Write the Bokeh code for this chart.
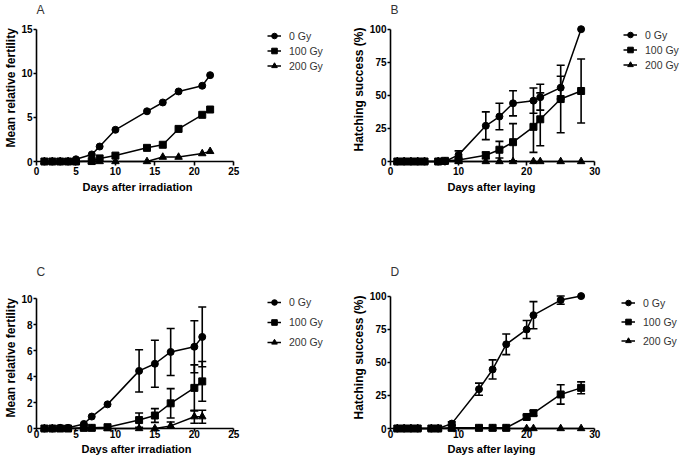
from bokeh.plotting import figure
from bokeh.layouts import column, row
from bokeh.models import (ColumnDataSource, Whisker, TeeHead, Legend, LegendItem,
                          FixedTicker, Range1d, Title)
from bokeh.embed import file_html
from bokeh.resources import INLINE

# ---------------- data ----------------
series_labels = ["0 Gy", "100 Gy", "200 Gy"]

# Panel A
days_a = [1, 2, 3, 4, 5, 7, 8, 10, 14, 16, 18, 21, 22]
a_0gy = [0, 0, 0, 0, 0.25, 0.8, 1.7, 3.6, 5.7, 6.7, 7.95, 8.6, 9.8]
a_100gy = [0, 0, 0, 0, 0, 0.05, 0.35, 0.67, 1.55, 1.9, 3.7, 5.3, 5.9]
a_200gy = [0, 0, 0, 0, 0, 0, 0, 0, 0, 0.5, 0.5, 0.9, 1.15]

# Panel B
days_b = [1, 2, 3, 4, 5, 7, 8, 10, 14, 16, 18, 21, 22, 25, 28]
b_0gy = [0, 0, 0, 0, 0, 0, 0, 5, 27, 34, 44, 46, 48.6, 55.8, 100]
b_0gy_err = [0, 0, 0, 0, 0, 0, 0, 3, 10.5, 10, 9.5, 9.5, 9.8, 8.6, 0]
b_100gy = [0, 0, 0, 0, 0, 0, 0.5, 1.2, 4.7, 8.9, 14.6, 26.2, 31.9, 47.2, 53.3]
b_100gy_err = [0, 0, 0, 0, 0, 0, 0, 0, 2.5, 6.3, 14, 19.3, 20, 25.5, 24.2]
b_200gy = [0, 0, 0, 0, 0, 0, 0, 0, 0, 0, 0, 0, 0, 0, 0]

# Panel C
days_c = [1, 2, 3, 4, 6, 7, 9, 13, 15, 17, 20, 21]
c_0gy = [0, 0, 0.05, 0.05, 0.35, 0.92, 1.86, 4.44, 4.99, 5.9, 6.3, 7.06]
c_0gy_err = [0, 0, 0, 0, 0, 0, 0, 1.63, 1.81, 1.81, 2.0, 2.3]
c_100gy = [0, 0, 0, 0, 0.05, 0.05, 0.1, 0.65, 1.0, 1.94, 3.13, 3.63]
c_100gy_err = [0, 0, 0, 0, 0, 0, 0, 0.55, 0.53, 1.13, 1.77, 1.53]
c_200gy = [0, 0, 0, 0, 0, 0, 0, 0, 0, 0.2, 0.91, 0.91]
c_200gy_err = [0, 0, 0, 0, 0, 0, 0, 0, 0, 0.3, 0.5, 0.5]

# Panel D
days_d = [1, 2, 3, 4, 6, 7, 9, 13, 15, 17, 20, 21, 25, 28]
d_0gy = [0, 0, 0, 0, 0, 0, 3.7, 29.7, 44.6, 63.6, 74.8, 85.6, 97, 100]
d_0gy_err = [0, 0, 0, 0, 0, 0, 1.3, 4.6, 7.2, 7.8, 6.8, 10.2, 3.1, 0]
d_100gy = [0, 0, 0, 0, 0, 0, 0.5, 0.5, 0.5, 0.5, 8.7, 11.6, 25.7, 30.7]
d_100gy_err = [0, 0, 0, 0, 0, 0, 0, 0, 0, 0, 1.5, 2, 7.3, 4.5]
d_200gy = [0, 0, 0, 0, 0, 0, 0, 0, 0, 0, 0, 0, 0, 0]

ticks_x_irr = [0, 5, 10, 15, 20, 25]
ticks_x_lay = [0, 10, 20, 30]
ticks_y_a = [0, 5, 10, 15]
ticks_y_c = [0, 2, 4, 6, 8, 10]
ticks_y_hatch = [0, 25, 50, 75, 100]

FONT = "Liberation Sans"
markers = ["circle", "square", "triangle"]
msizes = [7, 7, 7.5]


def panel(letter, days, series, errors, xticks, yticks, view_x, view_y,
          xlabel, ylabel, xlabel_off, ylabel_off, width, height, borders,
          legend_loc, legend_row_h, compact=False):
    left, right, top, bottom = borders
    p = figure(width=width, height=height, output_backend="svg", toolbar_location=None,
               x_range=Range1d(*view_x), y_range=Range1d(*view_y),
               min_border_left=left, min_border_right=right,
               min_border_top=top, min_border_bottom=bottom)
    p.outline_line_color = None
    p.background_fill_color = "white"
    p.border_fill_color = "white"
    p.xgrid.visible = False
    p.ygrid.visible = False
    p.title = Title(text=letter, text_font=FONT, text_font_size="12px",
                    text_font_style="normal", text_color="#333333", align="left",
                    standoff=0)
    for ax, ticks in ((p.xaxis[0], xticks), (p.yaxis[0], yticks)):
        ax.ticker = FixedTicker(ticks=ticks)
        ax.bounds = (ticks[0], ticks[-1])
        ax.minor_tick_line_color = None
        ax.axis_line_width = 1.6
        ax.axis_line_color = "black"
        ax.major_tick_line_width = 1.6
        ax.major_tick_line_color = "black"
        ax.major_tick_in = 0
        ax.major_tick_out = 4
        ax.major_label_standoff = 1
        ax.major_label_text_font = FONT
        ax.major_label_text_font_style = "bold"
        ax.major_label_text_font_size = "10px"
        ax.major_label_text_color = "black"
    p.yaxis[0].major_tick_out = 3
    if compact:
        p.xaxis[0].major_tick_out = 3
        p.xaxis[0].major_label_standoff = -2

    # axis titles, aligned to the bounded axes rather than the (wider) frame
    p.add_layout(Title(text=xlabel, text_font=FONT, text_font_size="11px",
                       text_font_style="bold", text_color="black", align="left",
                       offset=xlabel_off, standoff=(0 if compact else 2)), "below")
    p.add_layout(Title(text=ylabel, text_font=FONT, text_font_size="12px",
                       text_font_style="bold", text_color="black", align="left",
                       offset=ylabel_off, standoff=2), "left")

    items = []
    for i, ys in enumerate(series):
        src = ColumnDataSource(dict(x=days, y=ys))
        lr = p.line("x", "y", source=src, line_color="black", line_width=1.5, level="overlay")
        sr = p.scatter("x", "y", source=src, marker=markers[i], size=msizes[i],
                       fill_color="black", line_color="black", level="overlay")
        err = errors[i]
        if err is not None:
            xs = [d for d, e in zip(days, err) if e > 0]
            up = [v + e for v, e in zip(ys, err) if e > 0]
            lo = [v - e for v, e in zip(ys, err) if e > 0]
            esrc = ColumnDataSource(dict(x=xs, upper=up, lower=lo))
            w = Whisker(source=esrc, base="x", upper="upper", lower="lower",
                        line_color="black", line_width=1.6, level="overlay",
                        upper_head=TeeHead(size=8, line_width=1.6, line_color="black"),
                        lower_head=TeeHead(size=8, line_width=1.6, line_color="black"))
            p.add_layout(w)
        items.append(LegendItem(label=series_labels[i], renderers=[lr, sr]))

    leg = Legend(items=items, location=legend_loc, padding=0, margin=0, spacing=0,
                 glyph_width=14, glyph_height=legend_row_h, label_height=legend_row_h,
                 label_standoff=8, label_text_font=FONT, label_text_font_size="10.5px",
                 label_text_color="#333333", border_line_color=None,
                 background_fill_alpha=0)
    p.add_layout(leg)
    return p


# visible windows: frames are widened so the legend fits inside them;
# the axes themselves are bounded to the tick range.
pA = panel("A", days_a, [a_0gy, a_100gy, a_200gy], [None, None, None],
           ticks_x_irr, ticks_y_a, (0, 37.25), (0, 16.46),
           "Days after irradiation", "Mean relative fertility", 46, 14,
           340, 232, (32, 10, 14, 71), (231, 88), 15)
pB = panel("B", days_b, [b_0gy, b_100gy, b_200gy], [b_0gy_err, b_100gy_err, None],
           ticks_x_lay, ticks_y_hatch, (0, 42.6), (0, 109.6),
           "Days after laying", "Hatching success (%)", 57, 10,
           343, 232, (50, 3, 14, 70), (233, 89), 15)
pC = panel("C", days_c, [c_0gy, c_100gy, c_200gy], [c_0gy_err, c_100gy_err, c_200gy_err],
           ticks_x_irr, ticks_y_c, (0, 37.25), (0, 11.56),
           "Days after irradiation", "Mean relative fertility", 45, 11,
           340, 232, (32, 10, 40, 36), (231, 76), 20, compact=True)
pD = panel("D", days_d, [d_0gy, d_100gy, d_200gy], [d_0gy_err, d_100gy_err, None],
           ticks_x_lay, ticks_y_hatch, (0, 42.6), (0, 113.3),
           "Days after laying", "Hatching success (%)", 57, 9,
           343, 232, (50, 3, 46, 33), (231, 78), 19, compact=True)

layout = column(row(pA, pB), row(pC, pD))
open("out.html", "w").write(file_html(layout, INLINE))
